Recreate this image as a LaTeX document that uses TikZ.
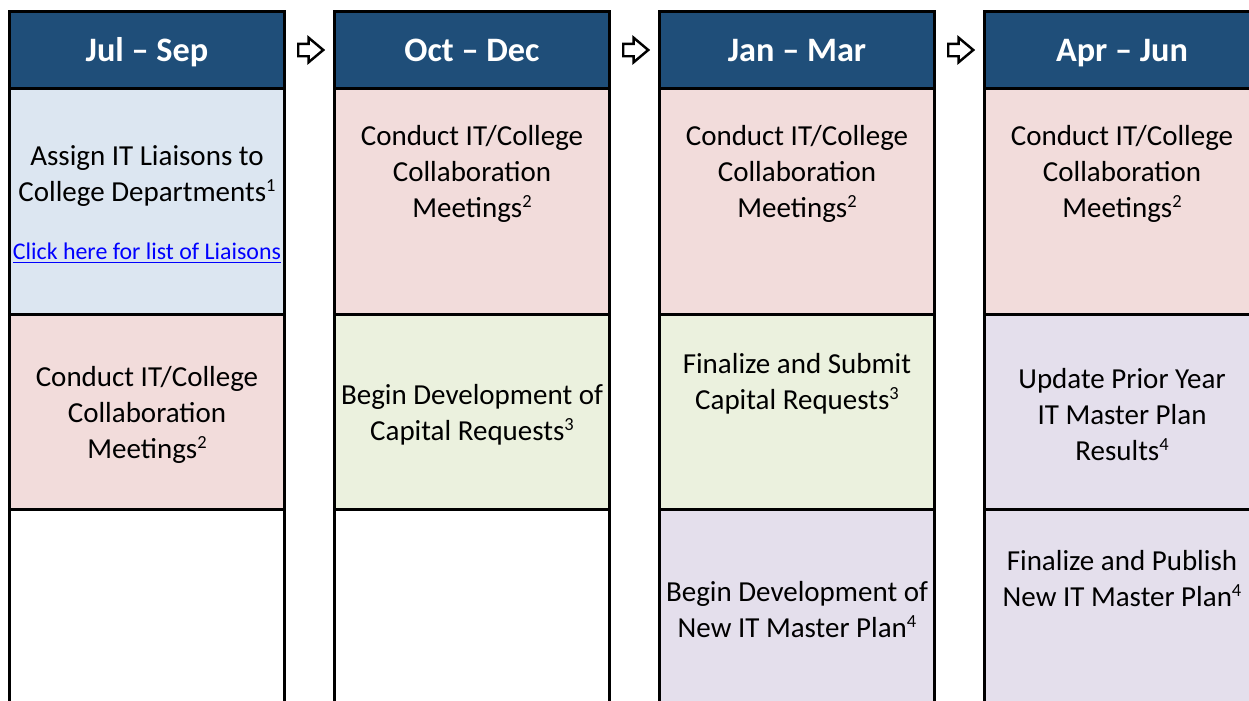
\documentclass[tikz,border=0pt]{standalone}
\usepackage{fontspec}
\setmainfont{Carlito}
\usepackage{tikz}
\usetikzlibrary{positioning, shapes.arrows}
\definecolor{headblue}{HTML}{1F4E79}
\definecolor{liaisonblue}{HTML}{DCE6F1}
\definecolor{meetpink}{HTML}{F2DCDB}
\definecolor{capgreen}{HTML}{EBF1DE}
\definecolor{planlav}{HTML}{E4DFEC}
\definecolor{linkblue}{HTML}{0000FF}
\newcommand{\fnum}[1]{\raisebox{5.5pt}{\fontsize{10.5}{10.5}\selectfont #1}}

\begin{document}
\begin{tikzpicture}[
  node distance=1cm,
  header/.style={rectangle, draw=black, line width=1.7pt, fill=headblue, text=white, minimum width=5.5cm, minimum height=1.54cm, outer sep=0pt, text height=14pt, text depth=0.4pt, font=\fontsize{19.5}{23}\selectfont\bfseries},
  cell/.style={rectangle, draw=black, line width=1.7pt, fill=#1, minimum width=5.5cm, outer sep=0pt},
  task/.style={align=center, inner sep=0pt, font=\fontsize{16.5}{20.5}\selectfont},
  nextarrow/.style={single arrow, draw=black, fill=white, line width=1.4pt, minimum height=0.5cm, single arrow head extend=0.12cm, single arrow tip angle=80, inner sep=0.1cm}
]
  \useasboundingbox (0,0) rectangle (24.98,-14);
  \clip (0,0) rectangle (24.98,-14);

  % Quarter headers
  \node[header] (hjul) at (2.94,-1.0) {Jul – Sep};
  \node[header, right=of hjul] (hoct) {Oct – Dec};
  \node[header, right=of hoct] (hjan) {Jan – Mar};
  \node[header, right=of hjan] (hapr) {Apr – Jun};

  % Arrows between quarters
  \node[nextarrow, right=0.25cm of hjul] (tooct) {};
  \node[nextarrow, right=0.25cm of hoct] (tojan) {};
  \node[nextarrow, right=0.25cm of hjan] (toapr) {};

  % Jul - Sep
  \node[cell=liaisonblue, minimum height=4.52cm, below=0pt of hjul] (jul1) {};
  \node[cell=meetpink, minimum height=3.9cm, below=0pt of jul1] (jul2) {};
  \node[cell=white, minimum height=4.2cm, below=0pt of jul2] (jul3) {};

  % Oct - Dec
  \node[cell=meetpink, minimum height=4.52cm, below=0pt of hoct] (oct1) {};
  \node[cell=capgreen, minimum height=3.9cm, below=0pt of oct1] (oct2) {};
  \node[cell=white, minimum height=4.2cm, below=0pt of oct2] (oct3) {};

  % Jan - Mar
  \node[cell=meetpink, minimum height=4.52cm, below=0pt of hjan] (jan1) {};
  \node[cell=capgreen, minimum height=3.9cm, below=0pt of jan1] (jan2) {};
  \node[cell=planlav, minimum height=4.2cm, below=0pt of jan2] (jan3) {};

  % Apr - Jun
  \node[cell=meetpink, minimum height=4.52cm, below=0pt of hapr] (apr1) {};
  \node[cell=planlav, minimum height=3.9cm, below=0pt of apr1] (apr2) {};
  \node[cell=planlav, minimum height=4.2cm, below=0pt of apr2] (apr3) {};

  % Tasks
  \node[task] (tjul1) at ([yshift=-1.75cm]jul1.north) {Assign IT Liaisons to\\College Departments\fnum{1}};
  \node[task, font=\fontsize{13.6}{16}\selectfont, text=linkblue] (tlink) at ([yshift=-3.30cm]jul1.north) {\underline{Click here for list of Liaisons}};
  \node[task] (tjul2) at ([yshift=-0.05cm]jul2.center) {Conduct IT/College\\Collaboration\\Meetings\fnum{2}};

  \node[task] (toct1) at ([yshift=-1.70cm]oct1.north) {Conduct IT/College\\Collaboration\\Meetings\fnum{2}};
  \node[task] (toct2) at ([yshift=-0.05cm]oct2.center) {Begin Development of\\Capital Requests\fnum{3}};

  \node[task] (tjan1) at ([yshift=-1.70cm]jan1.north) {Conduct IT/College\\Collaboration\\Meetings\fnum{2}};
  \node[task] (tjan2) at ([yshift=-1.38cm]jan2.north) {Finalize and Submit\\Capital Requests\fnum{3}};
  \node[task] (tjan3) at ([yshift=-2.0cm]jan3.north) {Begin Development of\\New IT Master Plan\fnum{4}};

  \node[task] (tapr1) at ([yshift=-1.70cm]apr1.north) {Conduct IT/College\\Collaboration\\Meetings\fnum{2}};
  \node[task] (tapr2) at ([yshift=-0.05cm]apr2.center) {Update Prior Year\\IT Master Plan\\Results\fnum{4}};
  \node[task] (tapr3) at ([yshift=-1.38cm]apr3.north) {Finalize and Publish\\New IT Master Plan\fnum{4}};
\end{tikzpicture}
\end{document}
